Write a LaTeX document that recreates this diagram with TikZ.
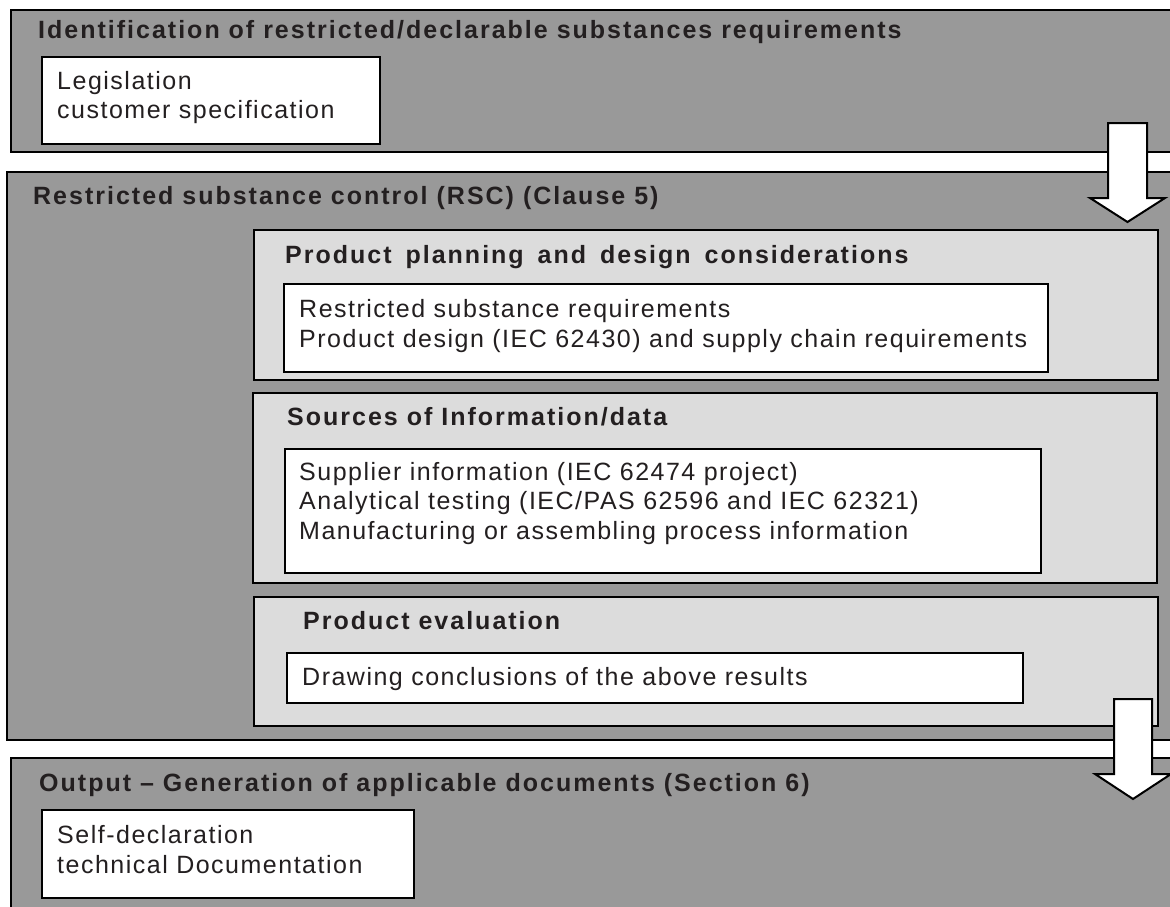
\documentclass[tikz,border=0pt]{standalone}
\usepackage{fontspec}
\setmainfont{Liberation Sans}
\newfontfamily\bodyf[LetterSpace=6]{Liberation Sans}
\newfontfamily\headf[LetterSpace=8]{Liberation Sans Bold}
\definecolor{darkbg}{HTML}{999999}
\definecolor{lightbg}{HTML}{DCDCDC}
\definecolor{ink}{HTML}{231F20}
\begin{document}
\begin{tikzpicture}[x=1pt,y=-1pt,
  outerbox/.style={fill=darkbg,draw=black,line width=2.5pt},
  innerbox/.style={fill=lightbg,draw=black,line width=2pt},
  textbox/.style={fill=white,draw=black,line width=2pt},
  blockarrow/.style={fill=white,draw=black,line width=2pt,line join=miter},
  head/.style={anchor=base west,inner sep=0pt,text=ink,font=\headf\fontsize{25}{30}\selectfont},
  body/.style={anchor=base west,inner sep=0pt,text=ink,font=\bodyf\fontsize{25}{30}\selectfont}]
\useasboundingbox (0,0) rectangle (1170,907);
\clip (0,0) rectangle (1170,907);
% outer boxes
\draw[outerbox] (11,10) rectangle (1200,152);
\draw[outerbox] (7,172) rectangle (1200,740);
\draw[outerbox] (11,758) rectangle (1200,940);
% inner boxes
\draw[innerbox] (254,230) rectangle (1158,380);
\draw[innerbox] (253,393) rectangle (1157,583);
\draw[innerbox] (254,597) rectangle (1158,726);
% white text boxes
\draw[textbox] (42,57) rectangle (380,144);
\draw[textbox] (284,284) rectangle (1048,372);
\draw[textbox] (285,449) rectangle (1041,573);
\draw[textbox] (287,653) rectangle (1023,703);
\draw[textbox] (42,810) rectangle (414,898);
% texts
\node[head] (t1) at (38,39) {Identification of restricted/declarable substances requirements};
\node[body] (l1a) at (57,89) {Legislation};
\node[body] (l1b) at (57,118) {customer specification};
\node[head] (t2) at (33,204) {Restricted substance control (RSC) (Clause 5)};
\node[head] (t3) at (285,263) {Product\hspace{5pt} planning\hspace{5pt} and\hspace{5pt} design\hspace{5pt} considerations};
\node[body] (l3a) at (299,317) {Restricted substance requirements};
\node[body] (l3b) at (299,347) {Product design (IEC 62430) and supply chain requirements};
\node[head] (t4) at (287,425) {Sources of Information/data};
\node[body] (l4a) at (299,480) {Supplier information (IEC 62474 project)};
\node[body] (l4b) at (299,509.5) {Analytical testing (IEC/PAS 62596 and IEC 62321)};
\node[body] (l4c) at (299,539) {Manufacturing or assembling process information};
\node[head] (t5) at (303,629) {Product evaluation};
\node[body] (l5a) at (302,685) {Drawing conclusions of the above results};
\node[head] (t6) at (39,791) {Output – Generation of applicable documents (Section 6)};
\node[body] (l6a) at (57,843) {Self-declaration};
\node[body] (l6b) at (57,873) {technical Documentation};
% block arrows
\draw[blockarrow] (1108,123) -- (1147,123) -- (1147,198) -- (1165,198) -- (1127.5,222) -- (1090,198) -- (1108,198) -- cycle;
\draw[blockarrow] (1114,699) -- (1152,699) -- (1152,774) -- (1171,774) -- (1133,799) -- (1095,774) -- (1114,774) -- cycle;
\end{tikzpicture}
\end{document}
